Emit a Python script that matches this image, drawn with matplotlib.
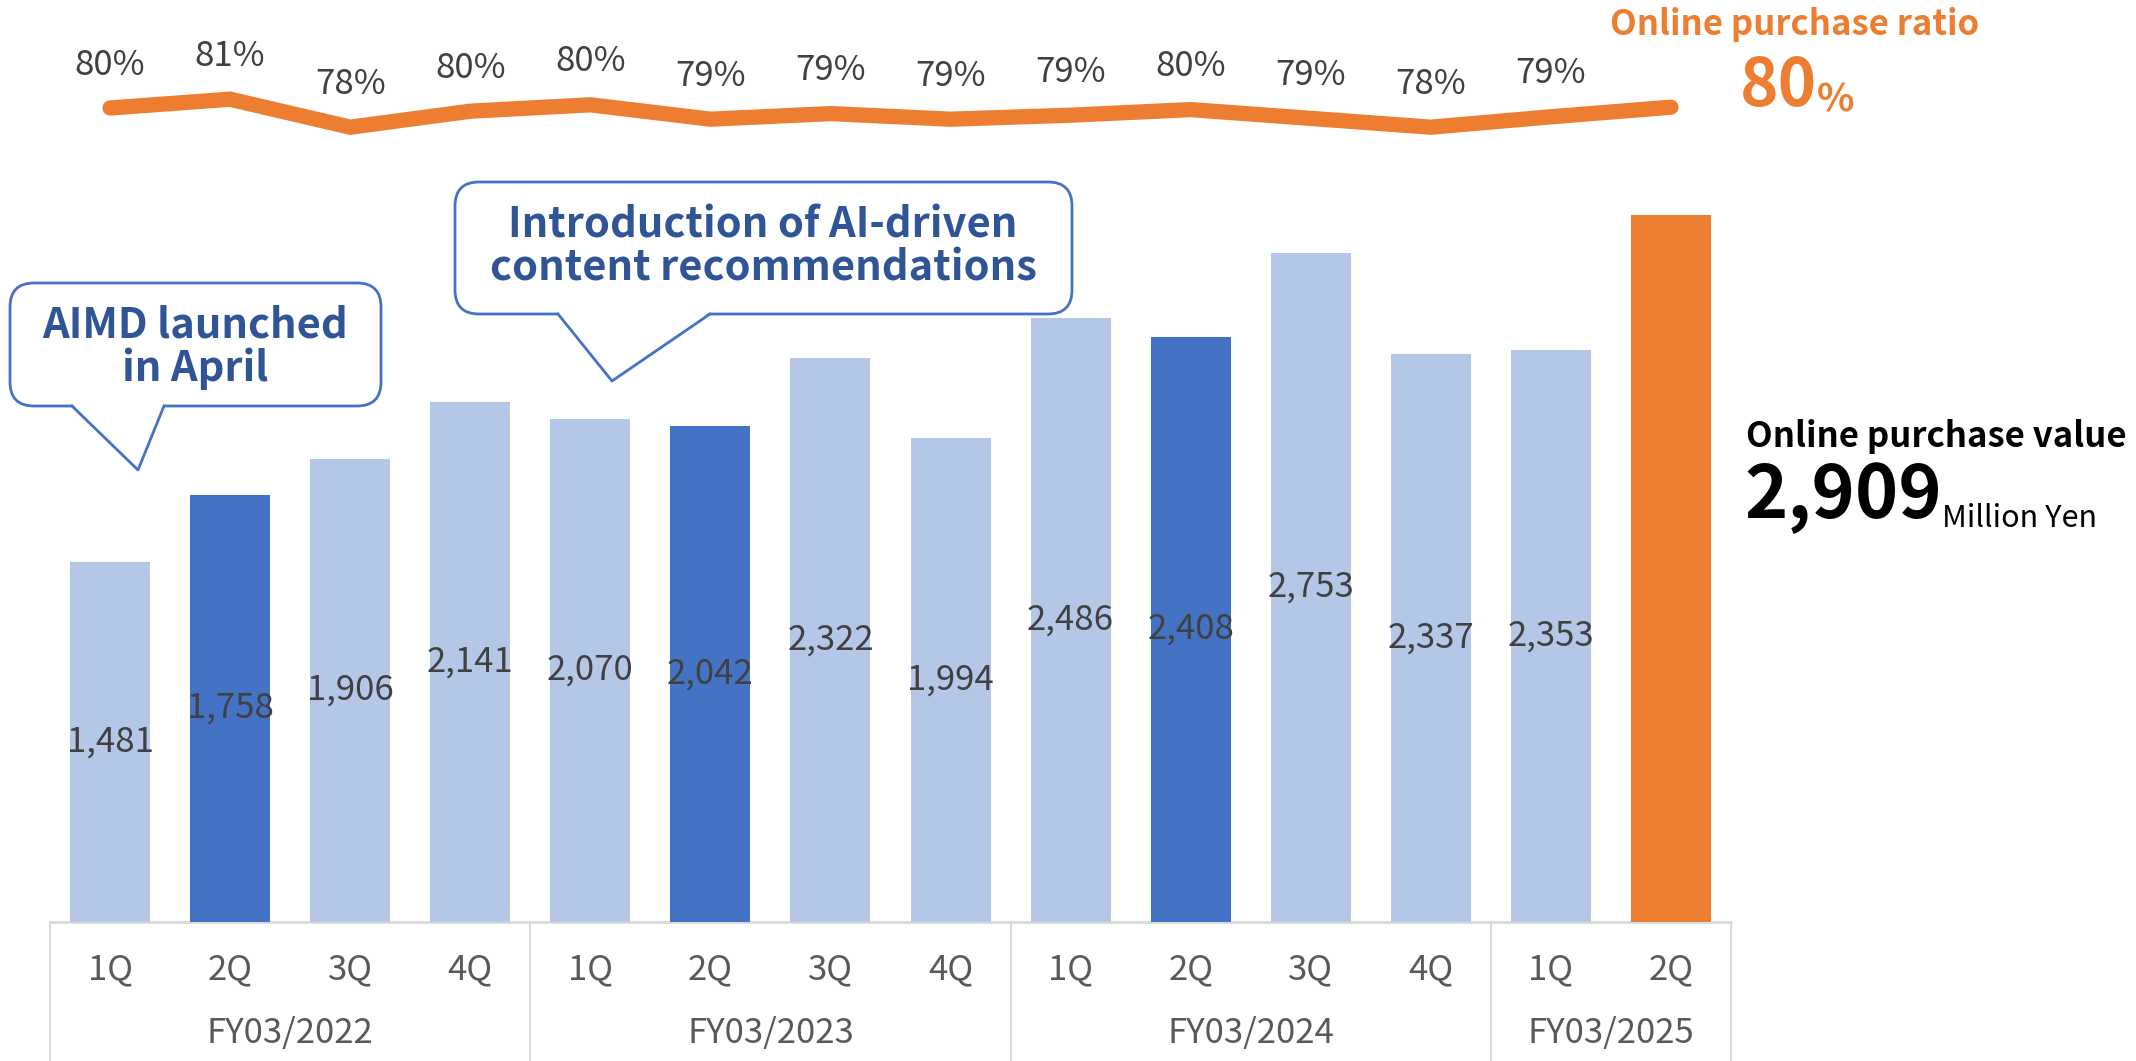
import numpy as np
import matplotlib
matplotlib.use("Agg")
from matplotlib import pyplot as plt
from matplotlib.patches import FancyBboxPatch, Polygon

plt.rcParams['font.family'] = ['Noto Sans CJK JP', 'DejaVu Sans']

# data
quarters = ['1Q', '2Q', '3Q', '4Q', '1Q', '2Q', '3Q', '4Q', '1Q', '2Q', '3Q', '4Q', '1Q', '2Q']
fiscal_years = ['FY03/2022', 'FY03/2023', 'FY03/2024', 'FY03/2025']
fy_quarters = [4, 4, 4, 2]
purchase_value = [1481, 1758, 1906, 2141, 2070, 2042, 2322, 1994, 2486, 2408, 2753, 2337, 2353, 2909]
online_ratio = [80.0, 81.1, 77.6, 79.6, 80.4, 78.6, 79.3, 78.6, 79.1, 79.8, 78.7, 77.6, 78.9, 80.1]
callout_texts = ['AIMD launched\nin April', 'Introduction of AI-driven\ncontent recommendations']

LIGHT = '#B4C7E7'
DARK = '#4472C4'
ORANGE = '#ED7D31'
GRID = '#D9D9D9'
LBL = '#404040'
NAVY = '#2F5597'

W, H = 2136, 1061
fig = plt.figure(figsize=(W / 100, H / 100), dpi=100)

# main axes: bars
ax = fig.add_axes([50 / W, 139 / H, 1681 / W, 922 / H])
ax.set_xlim(-0.5, 13.5)
ax.set_ylim(0, 3795)
ax.axis('off')

x = np.arange(len(purchase_value))
colors = [LIGHT] * len(x)
for i, q in enumerate(quarters):
    if q == '2Q':
        colors[i] = DARK
colors[-1] = ORANGE
ax.bar(x, purchase_value, width=0.666, color=colors, zorder=2)

for i in range(len(x) - 1):
    ax.text(x[i], purchase_value[i] / 2, f'{purchase_value[i]:,}', ha='center', va='center',
            fontsize=25, color=LBL, zorder=3)

# category axis
ax.plot([-0.5, 13.5], [0, 0], color=GRID, lw=2, clip_on=False, zorder=1)
tr = ax.get_xaxis_transform()
bounds = np.concatenate([[0], np.cumsum(fy_quarters)]) - 0.5
for b in bounds:
    ax.plot([b, b], [0, -0.151], color=GRID, lw=1.5, transform=tr, clip_on=False)
for i, q in enumerate(quarters):
    ax.text(x[i], -0.052, q, transform=tr, ha='center', va='center', fontsize=25, color='#595959')
for k, fy in enumerate(fiscal_years):
    ax.text((bounds[k] + bounds[k + 1]) / 2, -0.121, fy, transform=tr, ha='center', va='center',
            fontsize=25, color='#595959')

# ratio line
ax2 = ax.twinx()
ax2.set_ylim(-21.75, 93.5)
ax2.axis('off')
ax2.plot(x, online_ratio, color=ORANGE, lw=11, solid_capstyle='round', solid_joinstyle='miter')
for i in range(len(x) - 1):
    ax2.annotate(f'{online_ratio[i]:.0f}%', (x[i], online_ratio[i]), xytext=(0, 43),
                 textcoords='offset pixels', ha='center', va='center', fontsize=25, color=LBL)

# overlay in pixel coords (y down)
ov = fig.add_axes([0, 0, 1, 1], facecolor='none')
ov.set_xlim(0, W)
ov.set_ylim(H, 0)
ov.axis('off')


def callout(box, base, tip, text, tx, ty):
    x0, y0, x1, y1 = box
    ov.add_patch(FancyBboxPatch((x0, y0), x1 - x0, y1 - y0, boxstyle='round,pad=0,rounding_size=24',
                                fc='white', ec=DARK, lw=2))
    ov.add_patch(Polygon([(base[0], y1 - 2), (base[1], y1 - 2), tip], closed=True, fc='white', ec='none'))
    ov.plot([base[0], tip[0], base[1]], [y1, tip[1], y1], color=DARK, lw=2)
    ov.text(tx, ty, text, ha='center', va='center', fontsize=30, fontweight='bold', color=NAVY,
            linespacing=1.02)


callout((10, 283, 381, 406), (72, 164), (138, 470), callout_texts[0], 195, 347)
callout((455, 182, 1072, 314), (558, 710), (612, 381), callout_texts[1], 763, 247)

# right side headline numbers
ov.text(1795, 25, 'Online purchase ratio', ha='center', va='center', fontsize=25,
        fontweight='bold', color=ORANGE)
t80 = ov.text(1740, 106, f'{online_ratio[-1]:.0f}', ha='left', va='baseline', fontsize=47,
              fontweight='bold', color=ORANGE)
ov.annotate('%', xy=(1, 0), xycoords=t80, ha='left', va='bottom', fontsize=28,
            fontweight='bold', color=ORANGE)

ov.text(1746, 436, 'Online purchase value', ha='left', va='center', fontsize=25,
        fontweight='bold', color='black')
tv = ov.text(1744, 518, f'{purchase_value[-1]:,}', ha='left', va='baseline', fontsize=53,
             fontweight='bold', color='black')
ov.annotate('Million Yen', xy=(1, 0), xycoords=tv, ha='left', va='bottom', fontsize=22,
            color='black')

fig.savefig('out.png', dpi=100)
